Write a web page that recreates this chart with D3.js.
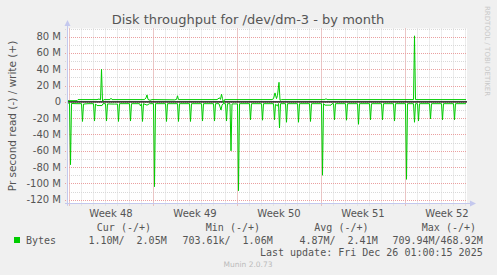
<!DOCTYPE html>
<html>
<head>
<meta charset="utf-8">
<script src="https://cdn.jsdelivr.net/npm/d3@7"></script>
<style>
  body { margin: 0; background: #f0f0f0; }
  svg text { font-family: "DejaVu Sans", sans-serif; fill: #555; }
  .mono { font-family: "DejaVu Sans Mono", monospace; white-space: pre; }
</style>
</head>
<body>
<div id="chart"></div>
<script>
// graph start (x origin), values in hours since start
const startTime = new Date(2025, 10, 23, 20, 0);
const spanHours = 800;

// read (-) series: [hour offset, MB/s]
const readSeries = [
  [0,-1.5],[5,-1.5],[7,-77],[9,-2],
  [18,-2.2],[29,-2.2],[31,-24],[33,-2.7],
  [42,-2.2],[53,-2.2],[55,-23.5],[57,-2.5],
  [60,-4.5],[70,-4.5],[72,-2.2],[77,-2.2],[79,-23.5],[81,-2.5],
  [95,-2.7],[101,-2.7],[103,-24],[105,-2.2],
  [125,-2.2],[127,-23.5],[129,-2.2],
  [145,-2.2],[147,-5],[149,-2.2],[151,-24],[153,-2.2],
  [160,-4],[165,-2.2],[173,-2.2],[175,-104],[177,-2.2],
  [197,-2.2],[199,-24],[201,-2.2],
  [221,-2.2],[223,-24],[225,-2.2],
  [245,-2.2],[247,-24],[249,-2.2],
  [269,-2.2],[271,-23.5],[273,-2.2],
  [293,-2.2],[295,-23.5],[297,-2.2],
  [304,-2.2],[308,-10],[310,-4],[312,-2.2],
  [317,-2.2],[319,-23.5],[321,-2.2],
  [326,-2.2],[328,-60],[330,-2.5],
  [341,-2.5],[343,-109],[345,-2.2],
  [365,-2.2],[367,-22],[369,-2.2],
  [389,-2.2],[391,-22.5],[393,-2.2],
  [413,-2.2],[415,-22],[417,-3],[421,-5],[423,-2],[425,-32],[427,-2.2],
  [437,-2.2],[439,-25],[441,-2.2],
  [461,-2.2],[463,-25],[465,-2.2],
  [485,-2.2],[487,-24],[489,-2.2],
  [509,-2.2],[511,-90],[513,-2.2],[516,-4],[528,-4],[530,-2.2],
  [533,-2.2],[535,-22],[537,-2.2],
  [557,-2.2],[559,-22.5],[561,-2.2],
  [581,-2.2],[583,-27.5],[585,-2.2],
  [605,-2.2],[607,-22],[609,-2.2],
  [629,-2.2],[631,-22],[633,-2.2],
  [653,-2.2],[655,-23.5],[657,-2.2],
  [677,-2.2],[679,-95],[681,-2.2],
  [693,-2.2],[695,-25],[697,-2.2],
  [701,-2.2],[703,-23.5],[705,-2.2],
  [725,-2.2],[727,-21],[729,-2.2],
  [749,-2.2],[751,-22],[753,-2.2],
  [773,-2.2],[775,-22],[777,-2.2],
  [798,-2.2]
];

// write (+) series: [hour offset, MB/s]
const writeSeries = [
  [0,1.5],[20,1.5],[22,2.8],[60,2.8],[64,3.5],[67,2.5],[69,40],[71,1],[74,2.8],
  [86,2.8],[88,4.5],[90,2.8],
  [155,2.8],[158,5],[160,8.5],[162,3],[166,2],[170,2.8],
  [215,2.5],[219,3],[221,7.5],[223,2.8],
  [300,2.8],[305,5],[307,3],[309,9.5],[311,4],[313,-1],[315,2.8],
  [410,2.8],[413,4],[416,11],[419,4],[421,8],[424,24],[426,2],[429,2.8],
  [516,2.8],[518,4],[520,2.8],
  [690,2.8],[693,2.8],[695,81],[697,2.8],
  [798,2.8]
];

const weekStarts = ["2025-11-24", "2025-12-01", "2025-12-08", "2025-12-15", "2025-12-22"];
const weekLabels = ["Week 48", "Week 49", "Week 50", "Week 51", "Week 52"];
const yTicks = [-120, -100, -80, -60, -40, -20, 0, 20, 40, 60, 80];

const legendHeaders = ["Cur (-/+)", "Min (-/+)", "Avg (-/+)", "Max (-/+)"];
const legendValues = ["1.10M/  2.05M", "703.61k/  1.06M", "4.87M/  2.41M", "709.94M/468.92M"];

const width = 497, height = 275;
const plot = { left: 67, right: 467, top: 28.5, bottom: 203.8 };

const svg = d3.select("#chart").append("svg")
  .attr("width", width)
  .attr("height", height);

svg.append("rect").attr("width", width).attr("height", height).attr("fill", "#f0f0f0");
svg.append("rect")
  .attr("x", plot.left).attr("y", plot.top)
  .attr("width", plot.right - plot.left).attr("height", plot.bottom - plot.top)
  .attr("fill", "#ffffff");

const toDate = h => new Date(startTime.getTime() + h * 3600e3);
const parseDay = s => { const p = s.split("-").map(Number); return new Date(p[0], p[1] - 1, p[2]); };

const x = d3.scaleTime()
  .domain([startTime, toDate(spanHours)])
  .range([plot.left, plot.right]);
const y = d3.scaleLinear()
  .domain([-125, 90])
  .range([plot.bottom, plot.top]);

// minor grid
const days = d3.timeDay.range(toDate(0), toDate(spanHours));
svg.append("g").selectAll("line").data(days).join("line")
  .attr("x1", d => Math.round(x(d)) + 0.5).attr("x2", d => Math.round(x(d)) + 0.5)
  .attr("y1", plot.top).attr("y2", plot.bottom + 2)
  .attr("stroke", "#d8d8d8").attr("stroke-dasharray", "1,1");
svg.append("g").selectAll("line").data(d3.range(-120, 91, 10)).join("line")
  .attr("x1", plot.left - 2).attr("x2", plot.right)
  .attr("y1", d => Math.round(y(d)) + 0.5).attr("y2", d => Math.round(y(d)) + 0.5)
  .attr("stroke", "#d8d8d8").attr("stroke-dasharray", "1,1");

// major grid
svg.append("g").selectAll("line").data(weekStarts.map(parseDay)).join("line")
  .attr("x1", d => Math.round(x(d)) + 0.5).attr("x2", d => Math.round(x(d)) + 0.5)
  .attr("y1", plot.top).attr("y2", plot.bottom + 2)
  .attr("stroke", "#eaa0a0").attr("stroke-dasharray", "1,1");
svg.append("g").selectAll("line").data(yTicks).join("line")
  .attr("x1", plot.left - 2).attr("x2", plot.right)
  .attr("y1", d => Math.round(y(d)) + 0.5).attr("y2", d => Math.round(y(d)) + 0.5)
  .attr("stroke", "#eaa0a0").attr("stroke-dasharray", "1,1");

// y tick labels
svg.append("g").selectAll("text").data(yTicks).join("text")
  .attr("x", 61).attr("y", d => y(d) + 3.5)
  .attr("text-anchor", "end").attr("font-size", 10)
  .text(d => d === 0 ? "0" : d + " M");

// x labels (mid-week)
svg.append("g").selectAll("text").data(weekStarts).join("text")
  .attr("x", d => x(d3.timeHour.offset(parseDay(d), 84)))
  .attr("y", 216.5)
  .attr("text-anchor", "middle").attr("font-size", 10)
  .text((d, i) => weekLabels[i]);

// zero line
svg.append("line")
  .attr("x1", plot.left).attr("x2", plot.right)
  .attr("y1", y(0)).attr("y2", y(0))
  .attr("stroke", "#000").attr("stroke-width", 1.2);

const line = d3.line()
  .x(d => x(toDate(d[0])))
  .y(d => y(d[1]));

svg.append("path").datum(readSeries)
  .attr("fill", "none").attr("stroke", "#00cc00").attr("stroke-width", 1)
  .attr("d", line);
svg.append("path").datum(writeSeries)
  .attr("fill", "none").attr("stroke", "#00cc00").attr("stroke-width", 1)
  .attr("d", line);

// axes with arrows
const axisColor = "#c4c8ee";
svg.append("line").attr("x1", plot.left + 0.5).attr("x2", plot.left + 0.5)
  .attr("y1", plot.bottom + 2).attr("y2", 22).attr("stroke", axisColor);
svg.append("line").attr("x1", plot.left - 2).attr("x2", 472)
  .attr("y1", plot.bottom - 0.3).attr("y2", plot.bottom - 0.3).attr("stroke", axisColor);
svg.append("path").attr("d", `M${plot.left - 2.5},26 L${plot.left + 0.5},20 L${plot.left + 3.5},26 Z`).attr("fill", axisColor);
svg.append("path").attr("d", `M470,${plot.bottom - 3.3} L476,${plot.bottom - 0.3} L470,${plot.bottom + 2.7} Z`).attr("fill", axisColor);

// title
svg.append("text")
  .attr("x", 248).attr("y", 23.5)
  .attr("text-anchor", "middle").attr("font-size", 13)
  .text("Disk throughput for /dev/dm-3 - by month");

// y axis title
svg.append("text")
  .attr("transform", "translate(15.5,116) rotate(-90)")
  .attr("text-anchor", "middle").attr("font-size", 10.5)
  .text("Pr second read (-) / write (+)");

// side credit
svg.append("text")
  .attr("transform", "translate(485,6) rotate(90)")
  .attr("font-size", 7).style("fill", "#c8c8c8")
  .text("RRDTOOL / TOBI OETIKER");

// legend
const colEnds = [151, 260, 368.5, 476];
const valEnds = [166.7, 272.7, 377.7, 482.7];
svg.append("g").selectAll("text").data(legendHeaders).join("text")
  .attr("class", "mono").attr("x", (d, i) => colEnds[i]).attr("y", 231)
  .attr("text-anchor", "end").attr("font-size", 10).text(d => d);
svg.append("rect").attr("x", 14).attr("y", 237).attr("width", 6).attr("height", 6).attr("fill", "#00cc00");
svg.append("text").attr("class", "mono").attr("x", 26).attr("y", 243.5)
  .attr("font-size", 10).text("Bytes");
svg.append("g").selectAll("text").data(legendValues).join("text")
  .attr("class", "mono").attr("x", (d, i) => valEnds[i]).attr("y", 243.5)
  .attr("text-anchor", "end").attr("font-size", 10).text(d => d);
svg.append("text").attr("class", "mono").attr("x", 482.7).attr("y", 255.5)
  .attr("text-anchor", "end").attr("font-size", 10)
  .text("Last update: Fri Dec 26 01:00:15 2025");
svg.append("text").attr("x", 248).attr("y", 266.5)
  .attr("text-anchor", "middle").attr("font-size", 7.5).style("fill", "#bbb")
  .text("Munin 2.0.73");
</script>
</body>
</html>
